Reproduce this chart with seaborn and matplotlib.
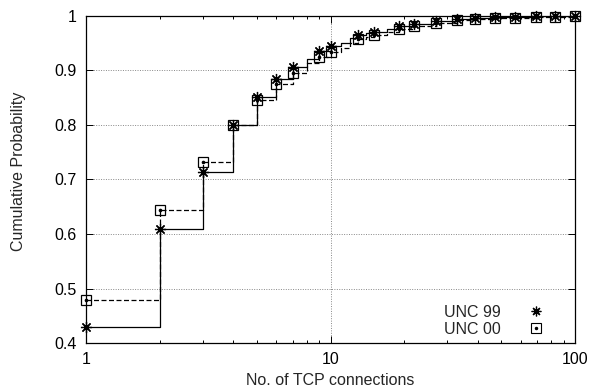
import matplotlib
matplotlib.use("Agg")
import matplotlib.pyplot as plt
import matplotlib.ticker as mticker
from matplotlib.lines import Line2D
import seaborn as sns
import pandas as pd

# Step data (all points of the empirical CDF)
x_steps = [1, 2, 3, 4, 5, 6, 7, 8, 9, 10, 11, 12, 13, 14, 15, 17, 19, 22, 27, 33, 39, 47, 57, 69, 83, 100]
unc99 = [0.430, 0.610, 0.714, 0.800, 0.852, 0.884, 0.907, 0.922, 0.936, 0.9455, 0.951, 0.959, 0.965, 0.968,
         0.971, 0.977, 0.982, 0.986, 0.991, 0.995, 0.997, 0.998, 0.999, 0.9993, 0.9997, 1.000]
unc00 = [0.479, 0.644, 0.732, 0.800, 0.846, 0.875, 0.896, 0.913, 0.924, 0.9345, 0.942, 0.950, 0.957, 0.961,
         0.965, 0.971, 0.976, 0.982, 0.988, 0.993, 0.9945, 0.996, 0.997, 0.998, 0.999, 1.000]

# Points where markers are drawn
x_marks = [1, 2, 3, 4, 5, 6, 7, 9, 10, 13, 15, 19, 22, 27, 33, 39, 47, 57, 69, 83, 100]

series_names = ["UNC 99", "UNC 00"]
x_ticks = [1, 10, 100]
y_ticks = [0.4, 0.5, 0.6, 0.7, 0.8, 0.9, 1.0]

sns.set_style("ticks")
plt.rcParams["font.family"] = ["Liberation Sans", "DejaVu Sans"]
FS = 11.5
plt.rcParams["font.size"] = FS

df = pd.DataFrame({"x": x_steps, "UNC 99": unc99, "UNC 00": unc00})
dm = df[df["x"].isin(x_marks)]

fig = plt.figure(figsize=(5.9, 3.9), dpi=100)
ax = fig.add_axes([0.1458, 0.1205, 0.8288, 0.8385])

sns.lineplot(data=df, x="x", y="UNC 99", ax=ax, color="black", lw=0.9,
             drawstyle="steps-post", estimator=None, sort=True)
sns.lineplot(data=df, x="x", y="UNC 00", ax=ax, color="black", lw=0.9,
             linestyle=(0, (4, 2)), drawstyle="steps-post", estimator=None, sort=True)

ax.plot(dm["x"], dm["UNC 99"], linestyle="", marker=(8, 2, 0), ms=8,
        mec="black", mew=0.9, zorder=5, clip_on=False)
ax.plot(dm["x"], dm["UNC 00"], linestyle="", marker="s", ms=7,
        mfc="none", mec="black", mew=0.9, zorder=5, clip_on=False)
ax.plot(dm["x"], dm["UNC 00"], linestyle="", marker="o", ms=1.6,
        mfc="black", mec="black", zorder=5, clip_on=False)

ax.set_xscale("log")
ax.set_xlim(1, 100)
ax.set_ylim(0.4, 1.0)
ax.set_xticks(x_ticks)
ax.xaxis.set_major_formatter(mticker.FuncFormatter(lambda v, p: f"{v:g}"))
ax.set_yticks(y_ticks)
ax.yaxis.set_major_formatter(mticker.FuncFormatter(lambda v, p: f"{v:g}"))
ax.tick_params(which="both", direction="in", top=True, right=True, labelsize=FS, colors="black")
ax.tick_params(which="major", length=5, width=0.7, pad=6.5)
ax.tick_params(which="minor", length=2.5, width=0.7)
ax.grid(which="major", linestyle=(0, (1, 1.5)), color="#888888", lw=0.7)
for s in ax.spines.values():
    s.set_linewidth(0.9)
    s.set_color("black")

ax.set_xlabel("No. of TCP connections", fontsize=FS, va="center")
ax.xaxis.set_label_coords(0.5, -0.116)
ax.set_ylabel("Cumulative Probability", fontsize=FS, va="center")
ax.yaxis.set_label_coords(-0.139, 0.524)

h99 = Line2D([], [], linestyle="", marker=(8, 2, 0), ms=7, mec="black", mew=0.9)
h00s = Line2D([], [], linestyle="", marker="s", ms=6.5, mfc="none", mec="black", mew=0.8)
h00d = Line2D([], [], linestyle="", marker="o", ms=1.5, mfc="black", mec="black")
leg = ax.legend([h99, (h00s, h00d)], series_names, loc="lower right", markerfirst=False,
                frameon=False, handlelength=1.3, handletextpad=1.55, labelspacing=0.12,
                borderaxespad=0.0, fontsize=FS, bbox_to_anchor=(0.954, 0.0))

fig.savefig("out.png", dpi=100)
